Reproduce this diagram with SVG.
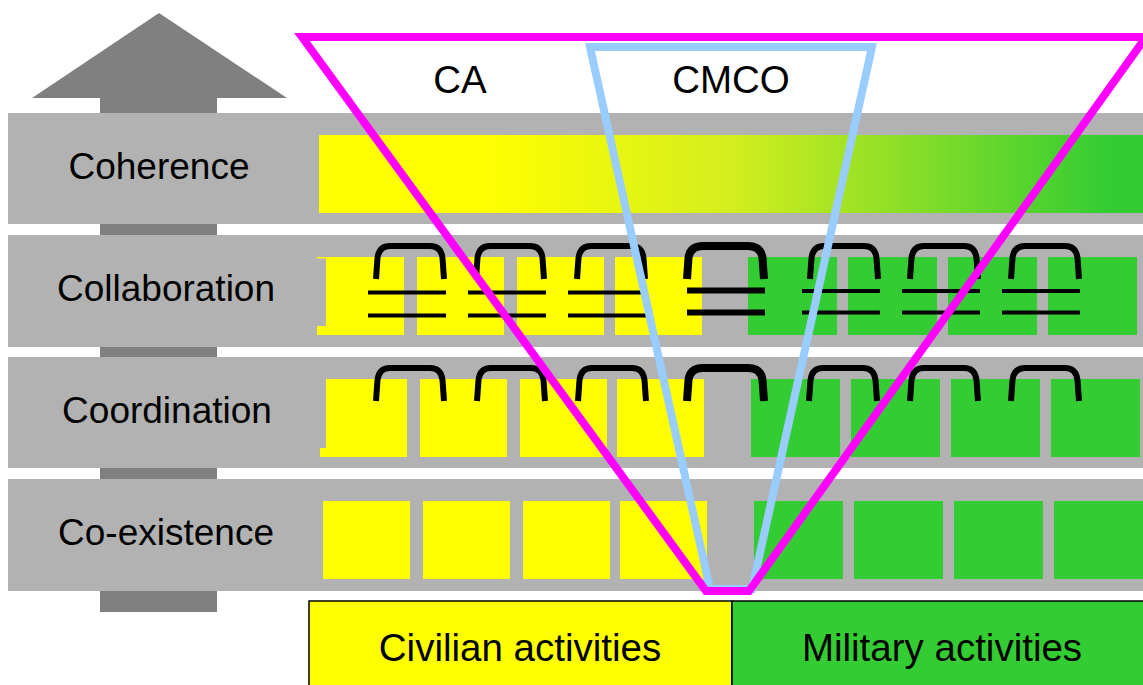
<svg xmlns="http://www.w3.org/2000/svg" width="1143" height="685" viewBox="0 0 1143 685">
  <defs>
    <linearGradient id="coherenceFill" gradientUnits="userSpaceOnUse" x1="319" y1="0" x2="1143" y2="0">
      <stop offset="0" stop-color="#ffff00"/>
      <stop offset="0.2" stop-color="#ffff00"/>
      <stop offset="0.5" stop-color="#d4ee1e"/>
      <stop offset="0.96" stop-color="#33cc33"/>
      <stop offset="1" stop-color="#33cc33"/>
    </linearGradient>
    <!-- bridge bracket between neighbouring blocks -->
    <path id="arch" d="M0,33 L1.5,12 Q3,0 14,0 L54,0 Q65,0 66.5,12 L68,33"/>
    <path id="archWide" d="M0,33 L1.5,12 Q3,0 16,0 L61,0 Q74,0 75.5,12 L77,33"/>
  </defs>
  <style>
    .band { fill: #b2b2b2; }
    .shaft { fill: #808080; }
    .civ { fill: #ffff00; }
    .mil { fill: #33cc33; }
    .lbl { font-family: "Liberation Sans", Arial, sans-serif; font-size: 37px; fill: #000; text-anchor: middle; }
    .big { font-size: 38.5px; }
    .br { fill: none; stroke: #000; stroke-width: 6; }
    .brw { fill: none; stroke: #000; stroke-width: 8; }
    .ln { stroke: #000; stroke-width: 4; }
    .lnw { stroke: #000; stroke-width: 6; }
    .ca { fill: none; stroke: #ff00ff; stroke-width: 8; stroke-linejoin: miter; }
    .cmco { fill: none; stroke: #99ccff; stroke-width: 8; stroke-linejoin: miter; }
  </style>

  <rect width="1143" height="685" fill="#ffffff"/>

  <!-- upward arrow behind the levels -->
  <g id="scale-arrow">
    <rect class="shaft" x="100" y="95" width="117" height="517"/>
    <polygon class="shaft" points="32,98 159,13 287,98"/>
  </g>

  <!-- level: coherence -->
  <g id="level-coherence">
    <rect class="band" x="8" y="113" width="1135" height="111"/>
    <rect x="319" y="135" width="824" height="78" fill="url(#coherenceFill)"/>
    <text class="lbl" x="159" y="179">Coherence</text>
  </g>

  <!-- level: collaboration -->
  <g id="level-collaboration">
    <rect class="band" x="8" y="235" width="1135" height="112"/>
    <rect class="civ" x="326" y="257" width="78" height="78"/>
    <rect class="civ" x="317" y="257" width="9" height="1.5"/>
    <rect class="civ" x="317" y="326" width="9" height="9"/>
    <rect class="civ" x="417" y="257" width="87" height="78"/>
    <rect class="civ" x="517" y="257" width="87" height="78"/>
    <rect class="civ" x="615" y="257" width="87" height="78"/>
    <rect class="mil" x="748" y="257" width="89" height="78"/>
    <rect class="mil" x="848" y="257" width="89" height="78"/>
    <rect class="mil" x="948" y="257" width="89" height="78"/>
    <rect class="mil" x="1048" y="257" width="89" height="78"/>
    <text class="lbl" x="166" y="301">Collaboration</text>
  </g>

  <!-- level: coordination -->
  <g id="level-coordination">
    <rect class="band" x="8" y="357" width="1135" height="111"/>
    <rect class="civ" x="326" y="379" width="81" height="78"/>
    <rect class="civ" x="320" y="448" width="6" height="9"/>
    <rect class="civ" x="420" y="379" width="87" height="78"/>
    <rect class="civ" x="520" y="379" width="87" height="78"/>
    <rect class="civ" x="617" y="379" width="87" height="78"/>
    <rect class="mil" x="751" y="379" width="89" height="78"/>
    <rect class="mil" x="851" y="379" width="89" height="78"/>
    <rect class="mil" x="951" y="379" width="89" height="78"/>
    <rect class="mil" x="1051" y="379" width="89" height="78"/>
    <text class="lbl" x="167" y="423">Coordination</text>
  </g>

  <!-- level: co-existence -->
  <g id="level-coexistence">
    <rect class="band" x="8" y="479" width="1135" height="112"/>
    <rect class="civ" x="323" y="501" width="87" height="78"/>
    <rect class="civ" x="423" y="501" width="87" height="78"/>
    <rect class="civ" x="523" y="501" width="87" height="78"/>
    <rect class="civ" x="620" y="501" width="87" height="78"/>
    <rect class="mil" x="754" y="501" width="89" height="78"/>
    <rect class="mil" x="854" y="501" width="89" height="78"/>
    <rect class="mil" x="954" y="501" width="89" height="78"/>
    <rect class="mil" x="1054" y="501" width="89" height="78"/>
    <text class="lbl" x="166" y="545">Co-existence</text>
  </g>

  <!-- activity legend -->
  <g id="civilian-activities">
    <rect class="civ" x="309" y="601" width="423" height="95" stroke="#000" stroke-width="1.5"/>
    <text class="lbl big" x="520" y="661">Civilian activities</text>
  </g>
  <g id="military-activities">
    <rect class="mil" x="732" y="601" width="420" height="95" stroke="#000" stroke-width="1.5"/>
    <text class="lbl big" x="942" y="661">Military activities</text>
  </g>

  <!-- brackets linking the blocks -->
  <g id="connectors">
    <!-- collaboration: bridges with double ties -->
    <use href="#arch" class="br" x="376" y="246"/>
    <use href="#arch" class="br" x="476" y="246"/>
    <use href="#arch" class="br" x="577" y="246"/>
    <use href="#archWide" class="brw" x="687" y="246"/>
    <use href="#arch" class="br" x="810" y="246"/>
    <use href="#arch" class="br" x="910" y="246"/>
    <use href="#arch" class="br" x="1011" y="246"/>
    <line class="ln" x1="368" y1="292.5" x2="446" y2="292.5"/>
    <line class="ln" x1="368" y1="315.5" x2="446" y2="315.5"/>
    <line class="ln" x1="468" y1="292.5" x2="546" y2="292.5"/>
    <line class="ln" x1="468" y1="315.5" x2="546" y2="315.5"/>
    <line class="ln" x1="568" y1="292.5" x2="646" y2="292.5"/>
    <line class="ln" x1="568" y1="315.5" x2="646" y2="315.5"/>
    <line class="lnw" x1="687" y1="290.5" x2="765" y2="290.5"/>
    <line class="lnw" x1="687" y1="312.5" x2="765" y2="312.5"/>
    <line class="ln" x1="802" y1="291" x2="880" y2="291"/>
    <line class="ln" x1="802" y1="312.5" x2="880" y2="312.5"/>
    <line class="ln" x1="902" y1="291" x2="980" y2="291"/>
    <line class="ln" x1="902" y1="312.5" x2="980" y2="312.5"/>
    <line class="ln" x1="1002" y1="291" x2="1080" y2="291"/>
    <line class="ln" x1="1002" y1="312.5" x2="1080" y2="312.5"/>
    <!-- coordination: bridges only -->
    <use href="#arch" class="br" x="376" y="368"/>
    <use href="#arch" class="br" x="477" y="368"/>
    <use href="#arch" class="br" x="578" y="368"/>
    <use href="#archWide" class="brw" x="687" y="368"/>
    <use href="#arch" class="br" x="809" y="368"/>
    <use href="#arch" class="br" x="910" y="368"/>
    <use href="#arch" class="br" x="1011" y="368"/>
  </g>

  <!-- CMCO funnel -->
  <g id="cmco-scope">
    <polygon class="cmco" points="590,47 872,47 752,589 710,589"/>
    <text class="lbl big" x="731" y="93">CMCO</text>
  </g>

  <!-- CA funnel -->
  <g id="ca-scope">
    <polygon class="ca" points="302,37 1146,37 749,591 706,591"/>
    <text class="lbl big" x="460" y="93">CA</text>
  </g>
</svg>
